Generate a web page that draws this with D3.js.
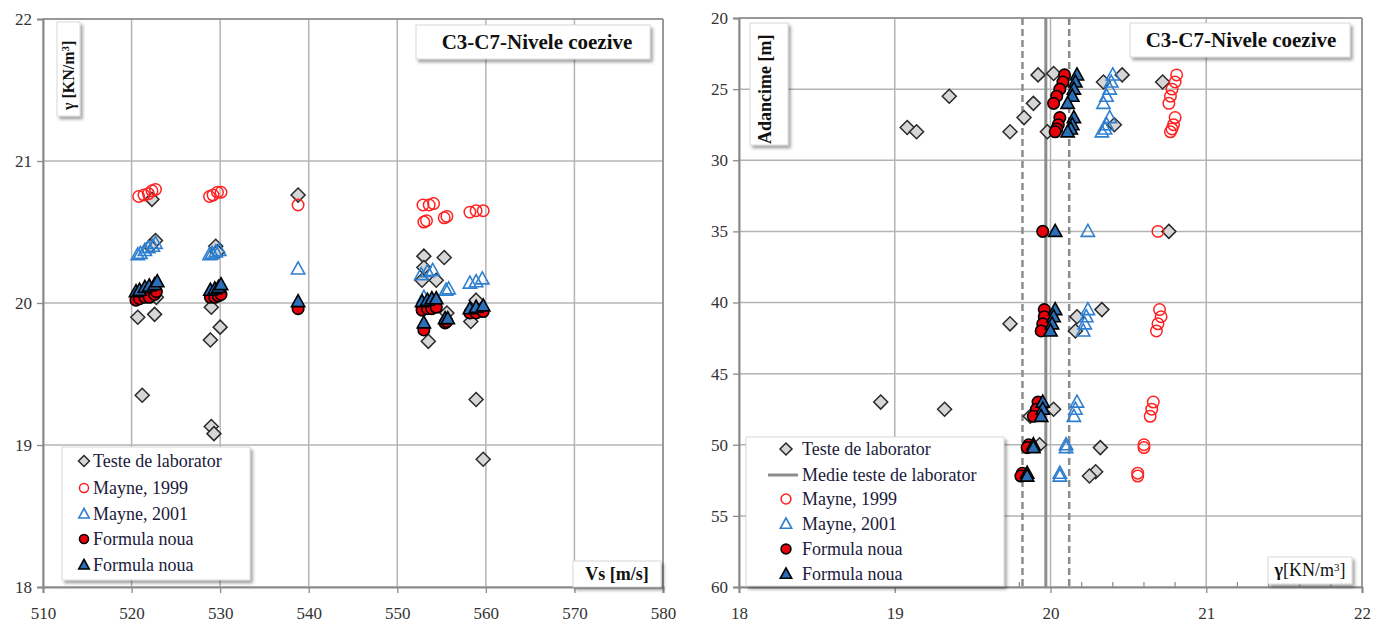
<!DOCTYPE html>
<html><head><meta charset="utf-8">
<script src="https://cdn.jsdelivr.net/npm/d3@7"></script>
<style>
html,body{margin:0;padding:0;background:#fff;}
svg{display:block;}
svg text{font-family:"Liberation Serif","Times New Roman",Tinos,"DejaVu Serif",serif !important;}
</style></head>
<body>
<svg id="chart" width="1384" height="626"></svg>
<script>
// ---- Left panel: unit weight vs shear-wave velocity ----
const leftTicksX = [510, 520, 530, 540, 550, 560, 570, 580];
const leftTicksY = [18, 19, 20, 21, 22];
// [Vs (m/s), gamma (kN/m3)]
const leftLab = [[520.7,19.90],[521.2,19.35],[522.3,20.73],[522.6,19.92],[522.8,20.04],[522.7,20.44],[522.1,20.40],
  [529.0,19.97],[528.9,19.74],[530.0,19.83],[529.5,20.40],[529.7,20.36],[529.0,19.13],[529.3,19.08],[538.8,20.76],
  [553.0,20.33],[553.0,20.25],[555.3,20.32],[552.8,20.16],[554.4,20.16],[555.6,19.93],[553.5,19.73],
  [558.9,20.02],[558.3,19.87],[558.9,19.32],[559.7,18.90]];
const leftMayne1999 = [[520.8,20.75],[521.4,20.76],[521.9,20.77],[522.3,20.79],[522.7,20.80],
  [528.8,20.75],[529.2,20.76],[529.7,20.78],[530.1,20.78],[538.8,20.69],
  [552.9,20.69],[553.6,20.69],[554.1,20.70],[553.0,20.57],[553.3,20.58],[555.3,20.60],[555.6,20.61],
  [558.2,20.64],[558.9,20.65],[559.7,20.65]];
const leftMayne2001 = [[520.7,20.34],[521.0,20.35],[521.5,20.37],[521.9,20.39],[522.4,20.40],[522.7,20.42],
  [528.8,20.34],[529.1,20.35],[529.5,20.36],[529.9,20.37],[538.8,20.24],
  [552.7,20.20],[553.4,20.22],[554.0,20.23],[553.0,20.04],[555.5,20.09],[555.8,20.10],
  [558.2,20.14],[558.9,20.15],[559.6,20.17]];
const leftNewCircle = [[520.5,20.02],[520.9,20.03],[521.5,20.04],[522.0,20.04],[522.6,20.06],[522.8,20.08],
  [528.9,20.04],[529.4,20.04],[529.8,20.05],[530.1,20.06],[538.8,19.96],
  [552.8,19.95],[553.4,19.96],[553.9,19.96],[554.4,19.97],[553.0,19.81],[555.4,19.86],[555.6,19.87],
  [558.2,19.93],[558.9,19.93],[559.7,19.94]];
const leftNewTriangle = [[520.5,20.08],[520.9,20.09],[521.5,20.11],[522.0,20.12],[522.6,20.13],[522.9,20.15],
  [528.9,20.09],[529.4,20.10],[529.8,20.11],[530.1,20.13],[538.8,20.01],
  [552.8,20.01],[553.4,20.02],[553.9,20.03],[554.4,20.03],[553.0,19.86],[555.4,19.89],[555.7,19.89],
  [558.2,19.96],[558.9,19.97],[559.7,19.98]];

// ---- Right panel: depth vs unit weight ----
const rightTicksX = [18, 19, 20, 21, 22];
const rightTicksY = [20, 25, 30, 35, 40, 45, 50, 55, 60];
// [gamma (kN/m3), depth (m)]
const rightLab = [[19.92,24.0],[20.02,23.9],[20.34,24.5],[20.46,24.0],[20.72,24.5],[19.89,26.0],[19.83,27.0],
  [19.74,28.0],[19.98,28.0],[20.41,27.5],[19.08,27.7],[19.14,28.0],[19.35,25.5],[20.76,35.0],
  [19.74,41.5],[20.17,41.0],[20.16,42.0],[20.33,40.5],[18.91,47.0],[19.32,47.5],[20.02,47.5],[19.87,48.0],
  [19.93,50.0],[20.32,50.2],[20.29,51.9],[20.25,52.2]];
const rightMayne1999 = [[20.81,24.0],[20.80,24.5],[20.78,25.0],[20.77,25.5],[20.76,26.0],[20.80,27.0],[20.79,27.5],
  [20.78,27.8],[20.77,28.0],[20.69,35.0],[20.70,40.5],[20.71,41.0],[20.69,41.5],[20.68,42.0],
  [20.66,47.0],[20.65,47.5],[20.64,48.0],[20.60,50.0],[20.60,50.2],[20.56,52.0],[20.56,52.2]];
const rightMayne2001 = [[20.40,24.0],[20.39,24.5],[20.38,25.0],[20.36,25.5],[20.34,26.0],[20.38,27.0],[20.36,27.5],
  [20.35,27.8],[20.33,28.0],[20.24,35.0],[20.24,40.5],[20.23,41.0],[20.22,41.5],[20.21,42.0],
  [20.17,47.0],[20.16,47.5],[20.15,48.0],[20.10,50.0],[20.10,50.2],[20.06,52.0],[20.06,52.2]];
const rightNewCircle = [[20.09,24.0],[20.08,24.5],[20.06,25.0],[20.04,25.5],[20.02,26.0],[20.06,27.0],[20.05,27.5],
  [20.04,27.8],[20.03,28.0],[19.95,35.0],[19.96,40.5],[19.96,41.0],[19.95,41.5],[19.94,42.0],
  [19.92,47.0],[19.91,47.5],[19.89,48.0],[19.86,50.0],[19.85,50.2],[19.82,52.0],[19.81,52.2]];
const rightNewTriangle = [[20.17,24.0],[20.16,24.5],[20.15,25.0],[20.14,25.5],[20.11,26.0],[20.15,27.0],[20.14,27.5],
  [20.13,27.8],[20.11,28.0],[20.03,35.0],[20.03,40.5],[20.02,41.0],[20.01,41.5],[20.00,42.0],
  [19.95,47.0],[19.95,47.5],[19.94,48.0],[19.89,50.0],[19.89,50.2],[19.85,52.0],[19.85,52.2]];
const labMean = 19.97;
const labBand = [19.82, 20.12];

const title = "C3-C7-Nivele coezive";
const legendLeft = ["Teste de laborator", "Mayne, 1999", "Mayne, 2001", "Formula noua", "Formula noua"];
const legendRight = ["Teste de laborator", "Medie teste de laborator", "Mayne, 1999", "Mayne, 2001", "Formula noua", "Formula noua"];

// ---- styles ----
const GRID = "#b4b4b4", AXIS = "#8a8a8a", RED = "#ff2020", BLUE = "#2f7fd0", FILLRED = "#e8000b", FILLBLUE = "#2a6fb8";

const svg = d3.select("#chart");
const defs = svg.append("defs");
const sh = defs.append("filter").attr("id", "shadow").attr("x", "-10%").attr("y", "-10%").attr("width", "130%").attr("height", "140%");
sh.append("feDropShadow").attr("dx", 2.5).attr("dy", 3).attr("stdDeviation", 1.8).attr("flood-color", "#000").attr("flood-opacity", 0.35);

const diamond = s => `M0,${-s}L${s},0L0,${s}L${-s},0Z`;
const tri = s => `M0,${-s}L${s * 0.95},${s * 0.72}L${-s * 0.95},${s * 0.72}Z`;

const markers = {
  lab: (g, s) => g.append("path").attr("d", diamond(s)).attr("fill", "#d6d6d6").attr("stroke", "#2a2a2a").attr("stroke-width", 1.5),
  m99: (g, s) => g.append("circle").attr("r", s * 0.82).attr("fill", "none").attr("stroke", RED).attr("stroke-width", 1.5),
  m01: (g, s) => g.append("path").attr("d", tri(s)).attr("fill", "none").attr("stroke", BLUE).attr("stroke-width", 1.6),
  nc: (g, s) => g.append("circle").attr("r", s * 0.82).attr("fill", FILLRED).attr("stroke", "#000").attr("stroke-width", 1.6),
  nt: (g, s) => g.append("path").attr("d", tri(s)).attr("fill", FILLBLUE).attr("stroke", "#000").attr("stroke-width", 1.6)
};

function plotSeries(g, data, x, y, kind, size) {
  data.forEach(d => {
    const m = g.append("g").attr("transform", `translate(${x(d[0])},${y(d[1])})`);
    markers[kind](m, size);
  });
}

function box(g, x0, y0, w, h) {
  return g.append("rect").attr("x", x0).attr("y", y0).attr("width", w).attr("height", h)
    .attr("fill", "#fff").attr("stroke", "#d0d0d0").attr("stroke-width", 0.8).attr("filter", "url(#shadow)");
}

function frame(g, x, y, ticksX, ticksY, minorX) {
  const [x0, x1] = x.range(), [yb, yt] = [Math.max(...y.range()), Math.min(...y.range())];
  const grid = g.append("g");
  ticksX.forEach(t => grid.append("line").attr("x1", x(t)).attr("x2", x(t)).attr("y1", yt).attr("y2", yb).attr("stroke", GRID).attr("stroke-width", 1.5));
  ticksY.forEach(t => grid.append("line").attr("x1", x0).attr("x2", x1).attr("y1", y(t)).attr("y2", y(t)).attr("stroke", GRID).attr("stroke-width", 1.5));
  // axes with outward ticks
  const ax = g.append("g").attr("class", "axes");
  const yAxis = d3.axisLeft(y).tickValues(ticksY).tickSize(6).tickPadding(5).tickFormat(d3.format("d"));
  const xAxis = d3.axisBottom(x).tickValues(ticksX).tickSize(6).tickPadding(14).tickFormat(d3.format("d"));
  const ya = ax.append("g").attr("transform", `translate(${x0},0)`).call(yAxis);
  const xa = ax.append("g").attr("transform", `translate(0,${yb})`).call(xAxis);
  [ya, xa].forEach(a => {
    a.attr("font-family", null);
    a.select(".domain").attr("stroke", AXIS).attr("stroke-width", 2);
    a.selectAll(".tick line").attr("stroke", AXIS).attr("stroke-width", 1.3);
    a.selectAll("text").attr("font-size", 17).attr("fill", "#333");
  });
  if (minorX) {
    minorX.forEach(t => ax.append("line").attr("x1", x(t)).attr("x2", x(t)).attr("y1", yb).attr("y2", yb - 5).attr("stroke", AXIS).attr("stroke-width", 1.2));
  }
  ax.append("line").attr("x1", x0).attr("x2", x1).attr("y1", yt).attr("y2", yt).attr("stroke", AXIS).attr("stroke-width", 1.5);
  ax.append("line").attr("x1", x1).attr("x2", x1).attr("y1", yt).attr("y2", yb).attr("stroke", AXIS).attr("stroke-width", 1.5);
}

// ================= LEFT PANEL =================
{
  const x = d3.scaleLinear().domain([510, 580]).range([43, 663]);
  const y = d3.scaleLinear().domain([18, 22]).range([587, 19]);
  const g = svg.append("g");
  frame(g, x, y, leftTicksX, leftTicksY, null);

  const pts = g.append("g");
  plotSeries(pts, leftLab, x, y, "lab", 7);
  plotSeries(pts, leftMayne1999, x, y, "m99", 7);
  plotSeries(pts, leftMayne2001, x, y, "m01", 7);
  plotSeries(pts, leftNewCircle, x, y, "nc", 7);
  plotSeries(pts, leftNewTriangle, x, y, "nt", 7);

  // y label box
  box(g, 57, 22, 23, 94);
  g.append("text").attr("transform", "translate(74,110) rotate(-90)").attr("font-size", 16).attr("font-weight", "bold").attr("fill", "#111")
    .html('γ [KN/m<tspan dy="-5" font-size="11">3</tspan><tspan dy="5">]</tspan>');
  // title
  box(g, 416, 25, 234, 34);
  g.append("text").attr("x", 537).attr("y", 49).attr("text-anchor", "middle").attr("font-size", 21).attr("font-weight", "bold").attr("fill", "#111").text(title);
  // x label
  box(g, 573, 561, 88, 26);
  g.append("text").attr("x", 617).attr("y", 580).attr("text-anchor", "middle").attr("font-size", 18).attr("font-weight", "bold").attr("fill", "#111").text("Vs [m/s]");
  // legend
  box(g, 62, 447, 188, 133);
  const kinds = ["lab", "m99", "m01", "nc", "nt"];
  const rowsY = [461, 488, 514, 539, 565];
  legendLeft.forEach((t, i) => {
    const m = g.append("g").attr("transform", `translate(84,${rowsY[i]})`);
    markers[kinds[i]](m, 5.5);
    g.append("text").attr("x", 93).attr("y", rowsY[i] + 6).attr("font-size", 18).attr("fill", "#1a1a3a").text(t);
  });
}

// ================= RIGHT PANEL =================
{
  const x = d3.scaleLinear().domain([18, 22]).range([739, 1362]);
  const y = d3.scaleLinear().domain([20, 60]).range([18, 587]);
  const g = svg.append("g");
  const minor = d3.range(18.2, 22, 0.2).filter(v => Math.abs(v - Math.round(v)) > 0.05);
  frame(g, x, y, rightTicksX, rightTicksY, minor);

  // laboratory mean and spread
  const lines = g.append("g");
  const [yt, yb] = y.range();
  lines.append("line").attr("x1", x(labMean)).attr("x2", x(labMean)).attr("y1", yt).attr("y2", yb).attr("stroke", "#8c8c8c").attr("stroke-width", 3);
  labBand.forEach(v => lines.append("line").attr("x1", x(v)).attr("x2", x(v)).attr("y1", yt).attr("y2", yb)
    .attr("stroke", "#8c8c8c").attr("stroke-width", 2.5).attr("stroke-dasharray", "7,4"));

  const pts = g.append("g");
  plotSeries(pts, rightLab, x, y, "lab", 7);
  plotSeries(pts, rightMayne1999, x, y, "m99", 7);
  plotSeries(pts, rightMayne2001, x, y, "m01", 7);
  plotSeries(pts, rightNewCircle, x, y, "nc", 7);
  plotSeries(pts, rightNewTriangle, x, y, "nt", 7);

  // y label box
  box(g, 750, 23, 38, 122);
  g.append("text").attr("transform", "translate(771,144) rotate(-90)").attr("font-size", 18).attr("font-weight", "bold").attr("fill", "#111").text("Adancime [m]");
  // title
  box(g, 1130, 23, 220, 34);
  g.append("text").attr("x", 1241).attr("y", 47).attr("text-anchor", "middle").attr("font-size", 21).attr("font-weight", "bold").attr("fill", "#111").text(title);
  // x label
  box(g, 1268, 557, 84, 27);
  g.append("text").attr("x", 1310).attr("y", 576).attr("text-anchor", "middle").attr("font-size", 18).attr("font-weight", "bold").attr("fill", "#111")
    .html('γ<tspan font-weight="normal">[KN/m<tspan dy="-5" font-size="11">3</tspan><tspan dy="5">]</tspan></tspan>');
  // legend
  box(g, 746, 437, 258, 149);
  const kinds = ["lab", "line", "m99", "m01", "nc", "nt"];
  const rowsY = [449, 475, 499, 524, 549, 574];
  legendRight.forEach((t, i) => {
    if (kinds[i] === "line") {
      g.append("line").attr("x1", 768).attr("x2", 798).attr("y1", rowsY[i]).attr("y2", rowsY[i]).attr("stroke", "#8c8c8c").attr("stroke-width", 3);
    } else {
      const m = g.append("g").attr("transform", `translate(786,${rowsY[i]})`);
      markers[kinds[i]](m, 6);
    }
    g.append("text").attr("x", 802).attr("y", rowsY[i] + 6).attr("font-size", 18).attr("fill", "#1a1a3a").text(t);
  });
}
</script>
</body></html>
